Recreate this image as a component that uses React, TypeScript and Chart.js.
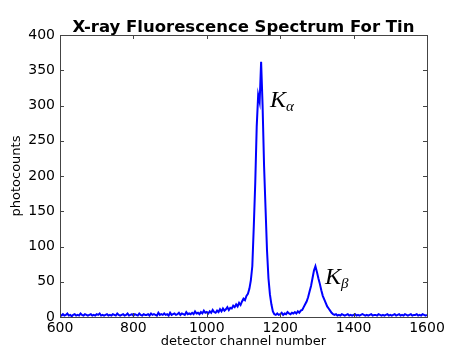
import React, { useEffect, useRef } from 'react';
import { Chart, registerables } from 'chart.js';

Chart.register(...registerables);

// detector channels sampled every 4 channels from 600 to 1600
const CHANNEL_START = 600;
const CHANNEL_STEP = 4;

const counts: number[] = [
  3, 2, 4, 2, 3, 5, 2, 3, 1, 3, // 600-636
  4, 2, 3, 2, 5, 3, 2, 4, 3, 2, // 640-676
  3, 4, 2, 3, 2, 4, 3, 5, 2, 3, // 680-716
  2, 3, 4, 2, 3, 2, 4, 3, 2, 5, // 720-756
  3, 2, 3, 4, 2, 3, 5, 2, 3, 4, // 760-796
  2, 4, 3, 2, 5, 3, 2, 4, 3, 3, // 800-836
  4, 2, 5, 3, 4, 3, 2, 6, 3, 4, // 840-876
  3, 5, 3, 4, 2, 6, 3, 4, 5, 3, // 880-916
  4, 6, 3, 5, 4, 3, 7, 4, 5, 4, // 920-956
  6, 4, 8, 5, 6, 4, 7, 5, 9, 6, // 960-996
  7, 5, 8, 6, 10, 7, 6, 9, 7, 11, // 1000-1036
  8, 12, 9, 11, 14, 10, 13, 12, 16, 14, // 1040-1076
  18, 15, 20, 17, 22, 26, 24, 30, 33, 40, // 1080-1116
  52, 72, 128, 190, 270, 315, 305, 362, 300, 215, // 1120-1156
  155, 95, 55, 32, 18, 8, 4, 3, 5, 3, // 1160-1196
  4, 6, 3, 5, 4, 7, 5, 4, 6, 5, // 1200-1236
  7, 5, 8, 6, 9, 10, 14, 18, 22, 28, // 1240-1276
  36, 44, 55, 66, 72, 64, 55, 47, 38, 30, // 1280-1316
  25, 20, 15, 12, 9, 6, 4, 3, 4, 2, // 1320-1356
  3, 2, 4, 3, 2, 3, 4, 2, 3, 2, // 1360-1396
  3, 4, 2, 3, 2, 3, 4, 3, 2, 3, // 1400-1436
  2, 3, 4, 2, 3, 3, 2, 4, 3, 2, // 1440-1476
  3, 2, 3, 4, 2, 3, 2, 3, 4, 2, // 1480-1516
  3, 4, 2, 3, 2, 4, 3, 2, 3, 4, // 1520-1556
  2, 3, 3, 4, 2, 3, 2, 4, 3, 2, // 1560-1596
  3, // 1600
];

const xTicks = [600, 800, 1000, 1200, 1400, 1600];
const yTicks = [0, 50, 100, 150, 200, 250, 300, 350, 400];

const peakNames = ['K', 'K'];
const peakSubs = ['α', 'β'];
const peakLabelX = [1172, 1322];
const peakLabelY = [298, 47];

const TITLE = 'X-ray Fluorescence Spectrum For Tin';
const X_TITLE = 'detector channel number';
const Y_TITLE = 'photocounts';

const SANS = "'DejaVu Sans', sans-serif";

const framePlugin = {
  id: 'frameAndTicks',
  afterDatasetsDraw(chart: any) {
    const { ctx, chartArea } = chart;
    const { left, right, top, bottom } = chartArea;
    const xs = chart.scales.x;
    const ys = chart.scales.y;
    ctx.save();
    ctx.strokeStyle = '#444444';
    ctx.lineWidth = 1;
    ctx.beginPath();
    xTicks.forEach((v) => {
      const px = Math.round(xs.getPixelForValue(v)) + 0.5;
      ctx.moveTo(px, bottom);
      ctx.lineTo(px, bottom - 4);
      ctx.moveTo(px, top);
      ctx.lineTo(px, top + 4);
    });
    yTicks.forEach((v) => {
      const py = Math.round(ys.getPixelForValue(v)) + 0.5;
      ctx.moveTo(left, py);
      ctx.lineTo(left + 4, py);
      ctx.moveTo(right, py);
      ctx.lineTo(right - 4, py);
    });
    ctx.stroke();
    ctx.strokeRect(Math.round(left) + 0.5, Math.round(top) + 0.5, Math.round(right - left), Math.round(bottom - top));

    // title, centred over the plot area
    ctx.fillStyle = '#000000';
    ctx.textAlign = 'center';
    ctx.textBaseline = 'alphabetic';
    ctx.font = `bold 16.5px ${SANS}`;
    ctx.fillText(TITLE, (left + right) / 2, top - 3);

    // peak labels
    ctx.textAlign = 'left';
    peakNames.forEach((name, i) => {
      const px = xs.getPixelForValue(peakLabelX[i]);
      const py = ys.getPixelForValue(peakLabelY[i]);
      ctx.font = "italic 24px 'Liberation Serif', serif";
      ctx.fillText(name, px, py);
      const w = ctx.measureText(name).width;
      ctx.font = "italic 15px 'Liberation Serif', serif";
      ctx.fillText(peakSubs[i], px + w, py + 4);
    });
    ctx.restore();
  },
};

export default function App() {
  const canvasRef = useRef<HTMLCanvasElement | null>(null);

  useEffect(() => {
    if (!canvasRef.current) return;
    const points = counts.map((c, i) => ({ x: CHANNEL_START + i * CHANNEL_STEP, y: c }));
    const chart = new Chart(canvasRef.current, {
      type: 'line',
      data: {
        datasets: [
          {
            data: points,
            borderColor: '#0000ff',
            borderWidth: 2,
            pointRadius: 0,
            tension: 0,
            fill: false,
          },
        ],
      },
      options: {
        animation: false,
        responsive: false,
        devicePixelRatio: 1,
        layout: { padding: { left: 0, right: 47, top: 35, bottom: 0 } },
        plugins: {
          legend: { display: false },
          tooltip: { enabled: false },
          title: { display: false },
        },
        scales: {
          x: {
            type: 'linear',
            min: 600,
            max: 1600,
            afterBuildTicks: (scale: any) => {
              scale.ticks = xTicks.map((v) => ({ value: v }));
            },
            afterFit: (scale: any) => {
              scale.height = 36;
            },
            grid: { display: false, drawTicks: false },
            border: { display: false },
            ticks: {
              color: '#000000',
              font: { family: SANS, size: 14 },
              maxRotation: 0,
              autoSkip: false,
              padding: 3,
              callback: (v: any) => String(v),
            },
            title: {
              display: true,
              text: X_TITLE,
              color: '#000000',
              font: { family: SANS, size: 13 },
              padding: { top: 0, bottom: 4 },
            },
          },
          y: {
            type: 'linear',
            min: 0,
            max: 400,
            afterBuildTicks: (scale: any) => {
              scale.ticks = yTicks.map((v) => ({ value: v }));
            },
            afterFit: (scale: any) => {
              scale.width = 60;
            },
            grid: { display: false, drawTicks: false },
            border: { display: false },
            ticks: {
              color: '#000000',
              font: { family: SANS, size: 14 },
              autoSkip: false,
              padding: 5,
              callback: (v: any) => String(v),
            },
            title: {
              display: true,
              text: Y_TITLE,
              color: '#000000',
              font: { family: SANS, size: 13 },
              padding: { top: 9, bottom: 0 },
            },
          },
        },
      },
      plugins: [framePlugin],
    });
    return () => chart.destroy();
  }, []);

  return (
    <div style={{ position: 'absolute', left: 0, top: 0, width: 474, height: 353, background: '#ffffff' }}>
      <canvas ref={canvasRef} width={474} height={353} />
    </div>
  );
}
